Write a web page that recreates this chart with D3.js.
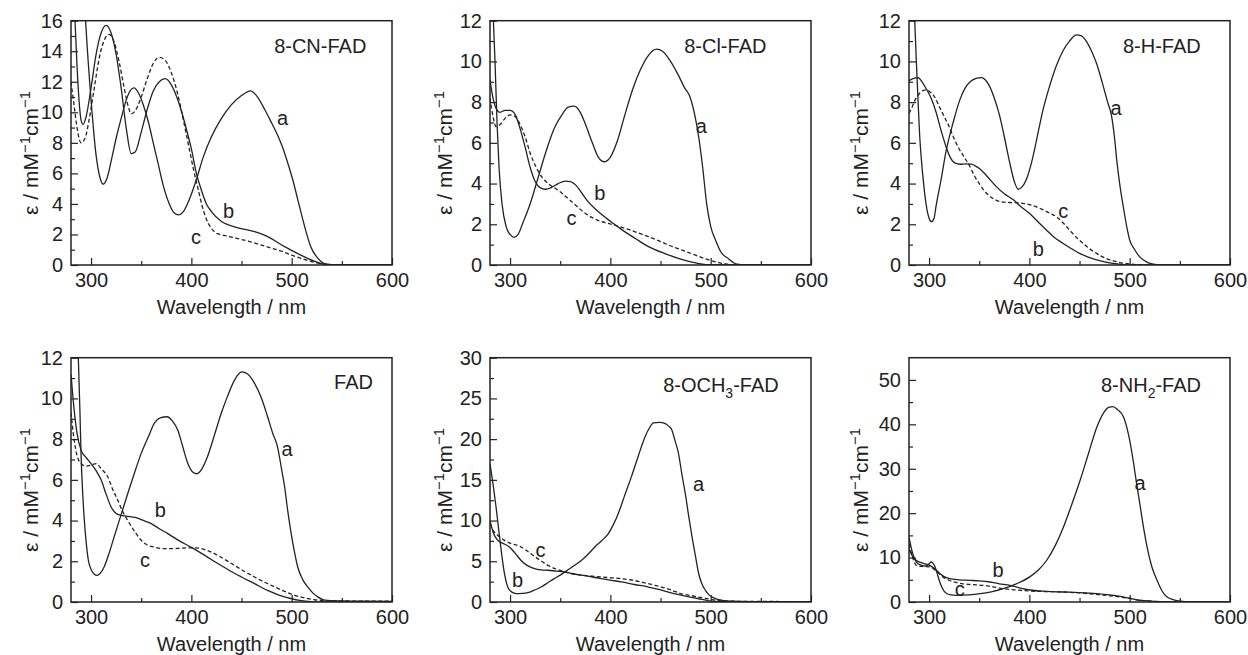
<!DOCTYPE html>
<html><head><meta charset="utf-8">
<script src="https://cdn.jsdelivr.net/npm/d3@7"></script>
<style>
body{margin:0;background:#fff}
svg text{font-family:"Liberation Sans",Arial,Helvetica,sans-serif;fill:#222}
</style>
</head><body>
<svg id="chart" width="1248" height="655"></svg>
<script>
// ---------- DATA: [wavelength nm, epsilon mM^-1 cm^-1] ----------
const xTicks = [300, 400, 500, 600];
const xMinorTicks = [350, 450, 550];

const cn_a = [[285,34],[290,22],[295,15.5],[300,10.8],[305,7.2],[309,5.7],[312,5.3],[316,5.7],[320,6.8],[325,8.3],[330,9.6],[335,10.8],[340,11.5],[343,11.6],[347,11.3],[352,10.5],[357,9.4],[362,8.0],[367,6.6],[372,5.2],[378,4.0],[383,3.4],[387,3.28],[392,3.5],[398,4.3],[405,5.6],[412,7.1],[420,8.4],[430,9.6],[440,10.5],[450,11.1],[459,11.4],[466,11.0],[473,10.2],[480,9.3],[486,8.5],[491,7.7],[496,6.7],[501,5.6],[506,4.3],[513,2.5],[519,1.2],[526,0.45],[534,0.07],[545,0],[600,0]];
const cn_b = [[280,22],[284,16],[287,11.8],[290,9.5],[292,9.2],[295,9.7],[300,11.6],[305,13.8],[310,15.2],[315,15.7],[320,15.2],[325,13.8],[330,11.6],[335,9.0],[340,7.3],[344,7.4],[350,8.7],[356,10.2],[362,11.4],[368,12.0],[374,12.2],[380,11.8],[386,10.9],[390,10.1],[395,8.9],[400,7.6],[405,6.0],[410,4.9],[415,4.0],[420,3.5],[430,2.85],[443,2.5],[463,2.18],[476,1.86],[493,1.2],[509,0.65],[526,0.17],[535,0.02],[600,0]];
const cn_c = [[280,12.0],[283,10.5],[286,9.0],[290,8.0],[294,8.3],[298,9.5],[303,11.5],[308,13.5],[313,14.7],[318,15.1],[323,14.6],[328,13.3],[333,11.6],[337,10.4],[340,9.9],[344,10.1],[350,11.0],[356,12.2],[362,13.2],[368,13.6],[374,13.4],[380,12.6],[386,11.3],[392,9.5],[397,7.9],[402,6.3],[407,4.9],[411,3.8],[415,3.0],[420,2.4],[426,2.05],[435,1.9],[445,1.75],[460,1.5],[475,1.2],[490,0.9],[500,0.65],[510,0.42],[520,0.22],[530,0.08],[540,0.01],[600,0]];

const cl_a = [[281,16],[283,12.5],[285,10],[287,7],[289,4.8],[292,3.0],[296,1.9],[300,1.5],[304,1.36],[308,1.5],[313,2.1],[320,3.0],[328,4.3],[336,5.6],[344,6.7],[352,7.4],[358,7.75],[364,7.8],[370,7.5],[376,6.8],[382,6.0],[388,5.3],[394,5.07],[400,5.3],[407,6.1],[414,7.3],[422,8.6],[430,9.6],[438,10.3],[446,10.6],[452,10.5],[460,10.0],[468,9.3],[474,8.7],[479,8.3],[484,7.4],[488,6.3],[492,4.8],[496,3.0],[500,1.9],[505,1.2],[510,0.65],[518,0.3],[525,0.05],[535,0],[600,0]];
const cl_b = [[280,9.1],[283,8.2],[286,7.7],[290,7.5],[295,7.6],[300,7.6],[305,7.4],[310,6.7],[315,5.8],[320,4.8],[325,4.1],[330,3.8],[335,3.72],[341,3.8],[348,4.0],[355,4.12],[360,4.1],[366,3.9],[372,3.5],[378,3.1],[385,2.75],[392,2.45],[400,2.15],[411,1.75],[425,1.3],[438,0.9],[455,0.55],[471,0.28],[485,0.1],[495,0.02],[600,0]];
const cl_c = [[280,8.2],[283,7.3],[286,6.8],[290,6.9],[295,7.2],[300,7.37],[305,7.3],[310,6.9],[315,6.3],[320,5.5],[326,4.8],[332,4.3],[338,4.0],[344,3.8],[350,3.6],[357,3.3],[364,3.0],[372,2.65],[381,2.35],[390,2.15],[398,2.05],[408,1.9],[418,1.75],[428,1.57],[438,1.39],[450,1.15],[462,0.9],[471,0.74],[485,0.48],[498,0.25],[508,0.12],[515,0.05],[525,0],[600,0]];

const h_a = [[283,16],[285.7,12],[287.5,9.8],[289,8.1],[290.5,6.5],[292.3,5.2],[295,3.8],[297.3,2.9],[300,2.3],[302.3,2.13],[305,2.3],[307,2.9],[312,4.2],[317,5.6],[324,7.0],[330.6,8.1],[336,8.7],[341,9.0],[347,9.17],[352,9.2],[356,9.1],[360.5,8.76],[365,8.2],[370.5,7.3],[375,6.3],[380.5,5.0],[385,4.1],[388.8,3.72],[392,3.8],[397,4.2],[402,5.0],[407,6.1],[413,7.5],[420,8.76],[427,9.8],[434,10.56],[440,11.0],[447,11.3],[452,11.25],[457,10.97],[462,10.5],[467,9.9],[473,8.9],[478,8.0],[482,7.3],[485,6.2],[487,5.2],[490,4.0],[493.5,2.9],[497,1.9],[500,1.23],[505,0.75],[510,0.4],[518,0.12],[525,0.03],[535,0],[600,0]];
const h_b = [[280,9.05],[284,9.15],[289,9.2],[293,9.0],[297,8.67],[302,8.2],[307,7.5],[312,6.6],[317,5.8],[321,5.3],[326,5.0],[331,4.95],[337,4.97],[342,4.96],[346,4.87],[350.5,4.73],[358,4.35],[367,3.85],[375,3.5],[384,3.2],[392,2.85],[400,2.54],[408,2.15],[417,1.72],[425,1.35],[433.7,1.06],[442,0.8],[450,0.57],[458,0.4],[467,0.25],[475,0.15],[483.5,0.08],[492,0.03],[500,0],[600,0]];
const h_c = [[280,7.45],[283,7.75],[286,8.1],[290,8.4],[294,8.57],[297,8.6],[301,8.5],[305,8.3],[310,7.8],[315,7.3],[320,6.8],[325,6.2],[330,5.7],[335,5.3],[340,4.9],[345,4.4],[350,4.0],[355,3.65],[360,3.4],[365.5,3.22],[372,3.1],[380,3.07],[387,3.06],[395,3.02],[400,2.97],[407,2.86],[414,2.7],[420,2.55],[427,2.37],[433,2.1],[440,1.72],[447,1.35],[453.6,1.06],[460,0.8],[467,0.57],[475,0.35],[487,0.16],[500,0.05],[510,0.01],[600,0]];

const fad_a = [[284,17],[287.3,12],[289,9.2],[290,7.3],[291.5,5.5],[293.3,4.0],[295,3.0],[297.3,2.05],[300,1.6],[303,1.38],[306,1.31],[309,1.4],[313,1.72],[318,2.4],[323,3.2],[330,4.3],[336.6,5.33],[343,6.3],[350,7.3],[357,8.1],[363,8.77],[369,9.05],[375.8,9.1],[381,8.9],[386.5,8.44],[391,7.7],[396.5,6.8],[401,6.4],[405.7,6.3],[410,6.5],[416,7.13],[423,8.2],[429.7,9.26],[436,10.1],[443,10.9],[450.3,11.3],[456,11.2],[463,10.74],[470,10.0],[476,9.1],[481,8.3],[486,7.6],[490,6.5],[493,5.65],[496,4.5],[499.5,3.36],[503,2.4],[506,1.72],[511,1.1],[516,0.74],[521,0.45],[526,0.25],[531,0.12],[536,0.08],[550,0.05],[570,0.04],[600,0.03]];
const fad_b = [[280,11.2],[283,9.5],[286,8.3],[290,7.46],[295,7.1],[300,6.8],[305,6.45],[310,6.0],[315,5.3],[320,4.67],[325,4.35],[330,4.26],[335,4.22],[340,4.18],[345,4.15],[350,4.05],[355,3.95],[360,3.85],[368,3.6],[376.5,3.36],[388,3.0],[400,2.68],[413,2.3],[426,1.9],[438,1.55],[450,1.23],[463,0.9],[476,0.57],[488,0.33],[500,0.16],[508,0.08],[516,0.03],[525,0],[600,0]];
const fad_c = [[280,9.3],[283,8.0],[286,7.2],[290,6.8],[295,6.67],[300,6.72],[305,6.8],[310,6.55],[316.6,6.15],[321,5.6],[326.6,5.0],[331,4.5],[336.6,4.0],[343,3.5],[350,3.03],[356,2.8],[363,2.7],[370,2.63],[376.5,2.62],[386,2.63],[396.5,2.66],[403,2.66],[410,2.62],[416,2.53],[423,2.38],[433,2.1],[443,1.8],[453,1.5],[463,1.23],[473,0.97],[483,0.74],[493,0.52],[503,0.33],[513,0.2],[523,0.11],[535,0.07],[550,0.05],[600,0.04]];

const och_a = [[280,17.0],[283,14.5],[286,11.7],[289,8.5],[291.6,5.9],[294,3.8],[297.7,1.84],[301,1.3],[304,1.1],[307.7,1.02],[312,1.05],[317.7,1.15],[324,1.45],[331,1.84],[338,2.4],[344,2.87],[350,3.3],[356,3.8],[363,4.4],[371,5.1],[378,5.9],[384.5,6.76],[391,7.5],[398,8.4],[403,9.5],[408,10.9],[414,13.0],[421,15.4],[428,18.0],[434.6,20.3],[439,21.4],[443,22.0],[449,22.05],[454.7,21.9],[458,21.6],[461.4,21.1],[464,20.0],[468,18.2],[471,15.9],[474.7,13.3],[478,10.6],[481.4,8.0],[485,5.5],[488,3.5],[491,2.3],[494.8,1.43],[498,0.9],[501.5,0.6],[506,0.35],[511.5,0.2],[520,0.1],[540,0.05],[600,0.03]];
const och_b = [[280,10.0],[283,8.6],[287.6,7.6],[293,7.2],[299.3,6.76],[305,6.0],[311,5.1],[317,4.5],[324.4,4.1],[331,3.95],[337.8,3.9],[346,3.8],[354.5,3.7],[362,3.5],[371,3.3],[381,3.1],[391,2.87],[401,2.66],[411,2.46],[424,2.15],[438,1.84],[451,1.45],[464.7,1.0],[476,0.7],[488,0.4],[498,0.15],[510,0.05],[600,0.02]];
const och_c = [[280,9.6],[283,8.8],[287.6,8.2],[294,7.6],[301,7.17],[306,7.0],[311,6.76],[316,6.35],[321,5.9],[329,5.2],[337.8,4.5],[346,4.05],[354.5,3.7],[362,3.45],[371,3.3],[381,3.18],[391,3.07],[401,2.97],[411,2.87],[421,2.7],[431,2.46],[441,2.15],[451,1.84],[461,1.45],[471,1.0],[480,0.8],[488,0.6],[495,0.45],[501,0.3],[510,0.15],[530,0.08],[600,0.05]];

const nh_a = [[280,14.6],[283,11.5],[287.3,9.0],[292,8.3],[297.3,8.1],[300,8.6],[302,9.0],[304,8.7],[306,7.9],[308,6.5],[310.7,4.5],[313,3.2],[317.4,1.9],[322,1.6],[327.3,1.5],[340,1.6],[351,1.87],[362,2.3],[374,3.0],[387,4.1],[400,5.6],[409,7.2],[417.3,9.4],[426,12.8],[434,16.9],[442,21.8],[450.6,27.4],[459,33.5],[467.3,39.4],[474,42.6],[479,43.8],[483.3,44.0],[488,43.3],[494,41.6],[499,37.5],[504,31.1],[507,26.5],[510.6,21.4],[514,16.5],[517.3,12.4],[522,8.0],[527.3,4.9],[532,2.6],[537.3,1.1],[544,0.5],[550.6,0.2],[560,0.05],[600,0]];
const nh_b = [[280,12.0],[283,10.5],[287,9.4],[293,8.8],[300.7,8.25],[306,7.4],[310.7,6.4],[315,5.7],[320.7,5.25],[330,5.0],[340.6,4.87],[350,4.75],[360.6,4.5],[370,4.1],[380.6,3.75],[390,3.2],[400.6,2.7],[417,2.4],[434,2.25],[450,2.1],[467,1.87],[480,1.6],[490.7,1.27],[500,0.85],[507,0.5],[515,0.3],[524,0.15],[540,0.05],[600,0]];
const nh_c = [[280,13.1],[283,10.5],[287.3,8.25],[293,8.0],[300.7,7.9],[307,7.0],[314,5.6],[320,4.9],[327,4.4],[334,4.1],[344,3.9],[354,3.75],[364,3.4],[374,3.0],[387,2.7],[400.6,2.47],[417,2.35],[434,2.25],[450,2.05],[467,1.7],[480,1.4],[490.7,1.1],[500,0.8],[507,0.5],[515,0.3],[524,0.15],[540,0.05],[600,0]];

// panel titles: [text, subscript, rest]
const panelNames = [["8-CN-FAD","",""],["8-Cl-FAD","",""],["8-H-FAD","",""],["FAD","",""],["8-OCH","3","-FAD"],["8-NH","2","-FAD"]];
const yMaxes = [16, 12, 12, 12, 30, 55];
const yMajorTicks = [d3.range(0,17,2), d3.range(0,13,2), d3.range(0,13,2), d3.range(0,13,2), d3.range(0,31,5), d3.range(0,51,10)];
const yMinorTicks = [d3.range(1,16,2), d3.range(1,12,2), d3.range(1,12,2), d3.range(1,12,2), d3.range(2.5,30,5), d3.range(5,55,10)];
// title anchor (data coords) and curve-letter anchors (data coords)
const titleAt = [[482.5,13.9],[473.6,10.41],[493.3,10.41],[542.3,10.46],[452.6,25.8],[471.4,47.3]];
const letterAt = [
  {a:[491,9.6], b:[437,3.56], c:[404.6,1.85]},
  {a:[490.7,6.83], b:[389.5,3.52], c:[361.3,2.29]},
  {a:[486.3,7.7], b:[408.8,0.77], c:[433.7,2.67]},
  {a:[495.4,7.5], b:[369,4.54], c:[353.8,2.05]},
  {a:[488,14.47], b:[307.6,2.67], c:[330.4,6.44]},
  {a:[510.3,26.9], b:[368.9,7.15], c:[330.6,3.0]}
];
const seriesA = [cn_a, cl_a, h_a, fad_a, och_a, nh_a];
const seriesB = [cn_b, cl_b, h_b, fad_b, och_b, nh_b];
const seriesC = [cn_c, cl_c, h_c, fad_c, och_c, nh_c];

// ---------- LAYOUT ----------
const colLeft = [71, 490, 909];
const rowTop = [20.7, 357.7];
const plotW = 321, plotH = 244.3;
const yTitleX = [38, 452, 868];
const FS = 20;
const ink = "#222";

const svg = d3.select("#chart");

for (let i = 0; i < 6; i++) {
  const col = i % 3, row = Math.floor(i / 3);
  const L = colLeft[col], T = rowTop[row];
  const x = d3.scaleLinear().domain([280, 600]).range([L, L + plotW]);
  const y = d3.scaleLinear().domain([0, yMaxes[i]]).range([T + plotH, T]);
  const g = svg.append("g");

  g.append("clipPath").attr("id", "clip" + i)
    .append("rect").attr("x", L).attr("y", T).attr("width", plotW).attr("height", plotH);

  const line = d3.line().x(d => x(d[0])).y(d => y(d[1])).curve(d3.curveMonotoneX);
  const lg = g.append("g").attr("clip-path", `url(#clip${i})`)
    .attr("fill", "none").attr("stroke", ink).attr("stroke-width", 1.3);
  lg.append("path").attr("d", line(seriesA[i]));
  lg.append("path").attr("d", line(seriesB[i]));
  lg.append("path").attr("d", line(seriesC[i])).attr("stroke-dasharray", "4,2.5");

  // axes (inward ticks)
  const xAx = g.append("g").attr("transform", `translate(0,${T + plotH})`)
    .call(d3.axisBottom(x).tickValues(xTicks).tickSize(-7).tickPadding(8).tickFormat(d3.format("d")));
  const xMin = g.append("g").attr("transform", `translate(0,${T + plotH})`)
    .call(d3.axisBottom(x).tickValues(xMinorTicks).tickSize(-4).tickFormat(""));
  const yAx = g.append("g").attr("transform", `translate(${L},0)`)
    .call(d3.axisLeft(y).tickValues(yMajorTicks[i]).tickSize(-7).tickPadding(8).tickFormat(d3.format("d")));
  const yMin = g.append("g").attr("transform", `translate(${L},0)`)
    .call(d3.axisLeft(y).tickValues(yMinorTicks[i]).tickSize(-4).tickFormat(""));
  [xAx, xMin, yAx, yMin].forEach(a => {
    a.select(".domain").remove();
    a.selectAll("line").attr("stroke", ink).attr("stroke-width", 1.2);
    a.selectAll("text").attr("font-size", FS).attr("fill", ink)
      .style("font-family", '"Liberation Sans", Arial, sans-serif');
  });

  // frame
  g.append("rect").attr("x", L).attr("y", T).attr("width", plotW).attr("height", plotH)
    .attr("fill", "none").attr("stroke", ink).attr("stroke-width", 1.5);

  // x title
  g.append("text").attr("x", L + plotW / 2).attr("y", T + plotH + 49)
    .attr("text-anchor", "middle").attr("font-size", FS).text("Wavelength / nm");

  // y title
  const yt = g.append("text")
    .attr("transform", `translate(${yTitleX[col]},${T + plotH / 2 + 10}) rotate(-90)`)
    .attr("text-anchor", "middle").attr("font-size", 21);
  yt.append("tspan").text("ε / mM");
  yt.append("tspan").attr("dy", -8).attr("font-size", 15).text("−1");
  yt.append("tspan").attr("dy", 8).text("cm");
  yt.append("tspan").attr("dy", -8).attr("font-size", 15).text("−1");

  // panel title
  const nm = panelNames[i];
  const tt = g.append("text").attr("x", x(titleAt[i][0])).attr("y", y(titleAt[i][1])).attr("font-size", FS);
  tt.append("tspan").text(nm[0]);
  if (nm[1]) {
    tt.append("tspan").attr("dy", 6).attr("font-size", 14).text(nm[1]);
    tt.append("tspan").attr("dy", -6).text(nm[2]);
  }

  // curve letters
  ["a", "b", "c"].forEach(k => {
    const p = letterAt[i][k];
    g.append("text").attr("x", x(p[0])).attr("y", y(p[1])).attr("dy", "0.35em")
      .attr("text-anchor", "middle").attr("font-size", FS).text(k);
  });
}
</script>
</body></html>
